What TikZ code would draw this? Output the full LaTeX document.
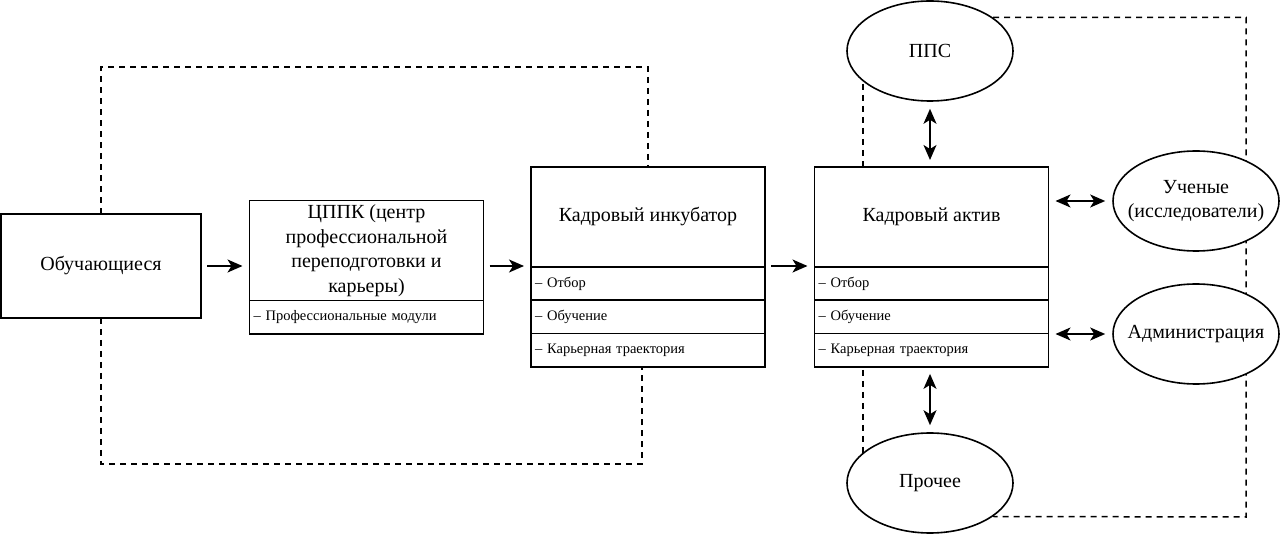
\documentclass[tikz,border=0pt]{standalone}
\usepackage{fontspec}
\setmainfont{Liberation Serif}
\usetikzlibrary{arrows.meta,positioning,shapes.geometric,backgrounds}
\newcommand{\bigtxt}{\fontsize{20}{24.5}\selectfont}
\newcommand{\smalltxt}{\fontsize{14.5}{17}\selectfont}
\tikzset{
  headbox/.style={draw, fill=white, line width=1.6pt, outer sep=0pt, minimum width=234pt, minimum height=100pt, inner sep=2pt, align=center, font=\bigtxt},
  rowbox/.style={draw, fill=white, line width=1.6pt, outer sep=0pt, text width=226pt, inner xsep=4pt, inner ysep=0pt, minimum height=33.3pt, align=left, font=\smalltxt},
  actor/.style={ellipse, draw, fill=white, line width=1.6pt, minimum width=166pt, minimum height=100pt, inner sep=0pt,
    label={[font=\bigtxt, align=center]center:#1}},
  flow/.style={-{Stealth[length=15pt, width=13pt, inset=4pt]}, line width=1.6pt, shorten <=6pt, shorten >=7pt},
  link/.style={{Stealth[length=15pt, width=13pt, inset=4pt]}-{Stealth[length=15pt, width=13pt, inset=4pt]}, line width=1.6pt, shorten <=7pt, shorten >=7pt},
  loopline/.style={line width=1.5pt, dash pattern=on 6pt off 5pt},
}

\begin{document}
\begin{tikzpicture}[x=1pt, y=-1pt]
\useasboundingbox (0,0) rectangle (1280,534);
\node[headbox, minimum width=200pt, minimum height=104pt] (learn) at (101,266) {Обучающиеся};
\node[headbox] (cppkhead) at (366.5,250.5) {ЦППК (центр\\профессиональной\\переподготовки и\\карьеры)};
\node[rowbox, below=0pt of cppkhead] (cppkr1) {– Профессиональные модули};
\node[headbox] (inchead) at (648,217) {Кадровый инкубатор};
\node[rowbox, below=0pt of inchead] (incr1) {– Отбор};
\node[rowbox, below=0pt of incr1] (incr2) {– Обучение};
\node[rowbox, below=0pt of incr2] (incr3) {– Карьерная траектория};
\node[headbox] (acthead) at (931.5,217) {Кадровый актив};
\node[rowbox, below=0pt of acthead] (actr1) {– Отбор};
\node[rowbox, below=0pt of actr1] (actr2) {– Обучение};
\node[rowbox, below=0pt of actr2] (actr3) {– Карьерная траектория};
\node[actor={ППС}] (pps) at (930,51) {};
\node[actor={Ученые\\(исследователи)}] (sci) at (1196,201) {};
\node[actor={Администрация}] (adm) at (1196,334) {};
\node[actor={Прочее}] (other) at (930,483) {};
\coordinate (uptop) at (0,67);
\coordinate (downbot) at (0,464);
\coordinate (rightx) at (1246,517);
\coordinate (incfoot) at ([xshift=-6pt]incr3.south);
\begin{scope}[on background layer]
\draw[loopline] (learn.north) |- (inchead.north |- uptop) -- (inchead.north);
\draw[loopline] (learn.south) |- (incfoot |- downbot) -- (incfoot);
\draw[loopline] (pps.28) -| (rightx) -- (other.-28);
\draw[loopline] ([xshift=-67pt]pps.center) -- ([xshift=-67pt]other.center);
\end{scope}
\draw[flow] (learn.east) -- (learn.east -| cppkhead.west);
\draw[flow] (cppkhead.east |- learn.east) -- (inchead.west |- learn.east);
\draw[flow] (inchead.east |- learn.east) -- (acthead.west |- learn.east);
\draw[link] (pps.south) -- (pps.south |- acthead.north);
\draw[link] (actr3.south -| other.north) -- (other.north);
\draw[link] (acthead.east |- sci.west) -- (sci.west);
\draw[link] (acthead.east |- adm.west) -- (adm.west);
\end{tikzpicture}
\end{document}
